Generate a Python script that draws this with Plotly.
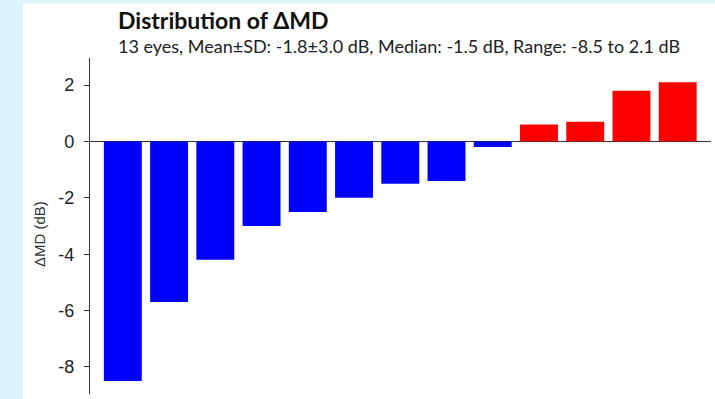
import plotly.graph_objects as go

# Change in mean deviation per eye, sorted ascending
eyes = list(range(1, 14))
delta_md = [-8.5, -5.7, -4.2, -3.0, -2.5, -2.0, -1.5, -1.4, -0.2, 0.6, 0.7, 1.8, 2.1]
y_ticks = [-8, -6, -4, -2, 0, 2]
y_tick_text = ["-8", "-6", "-4", "-2", "0", "2"]

title_text = "Distribution of ΔMD"
subtitle_text = "13 eyes, Mean±SD: -1.8±3.0 dB, Median: -1.5 dB, Range: -8.5 to 2.1 dB"
y_label = "ΔMD (dB)"

W, H = 715, 399
ML, MR, MT, MB = 90, 4, 58, 5
PW, PH = W - ML - MR, H - MT - MB


def px_x(x):
    return (x - ML) / PW


def px_y(y):
    return (H - MB - y) / PH


colors = ["#0000ff" if v < 0 else "#ff0000" for v in delta_md]

fig = go.Figure(
    go.Bar(
        x=list(range(len(eyes))),
        y=delta_md,
        marker=dict(color=colors, line=dict(width=0)),
        hoverinfo="y",
    )
)

fig.update_layout(
    width=W,
    height=H,
    margin=dict(l=ML, r=MR, t=MT, b=MB),
    paper_bgcolor="#dcf5fd",
    plot_bgcolor="white",
    showlegend=False,
    bargap=0.18,
    xaxis=dict(visible=False, range=[-0.71, 12.72]),
    yaxis=dict(
        range=[-8.96, 2.96],
        tickvals=y_ticks,
        ticktext=y_tick_text,
        ticks="outside",
        ticklen=5,
        tickwidth=1.3,
        tickcolor="#333333",
        showline=True,
        linecolor="#333333",
        linewidth=1.3,
        showgrid=False,
        zeroline=True,
        zerolinecolor="#333333",
        zerolinewidth=1.3,
        tickfont=dict(family="Liberation Sans, Arial", size=18, color="#222222"),
        ticklabelstandoff=6,
    ),
    shapes=[
        # white card behind the chart
        dict(
            type="rect", xref="paper", yref="paper", layer="below",
            x0=px_x(23), x1=px_x(W + 5), y0=px_y(H + 5), y1=px_y(3.5),
            fillcolor="white", line=dict(width=0),
        ),
    ],
    annotations=[
        dict(
            text=f"<b>{title_text}</b>", xref="paper", yref="paper",
            x=px_x(116), y=px_y(20), xanchor="left", yanchor="middle",
            showarrow=False,
            font=dict(family="Lato, Open Sans", size=23, color="#111111"),
        ),
        dict(
            text=subtitle_text, xref="paper", yref="paper",
            x=px_x(116), y=px_y(46), xanchor="left", yanchor="middle",
            showarrow=False,
            font=dict(family="Lato, Open Sans", size=18, color="#222222"),
        ),
        dict(
            text=y_label, xref="paper", yref="paper",
            x=px_x(39), y=px_y(234), xanchor="center", yanchor="middle",
            textangle=-90, showarrow=False,
            font=dict(family="Liberation Sans, Arial", size=15, color="#333333"),
        ),
    ],
)

fig.write_html("out.html")
